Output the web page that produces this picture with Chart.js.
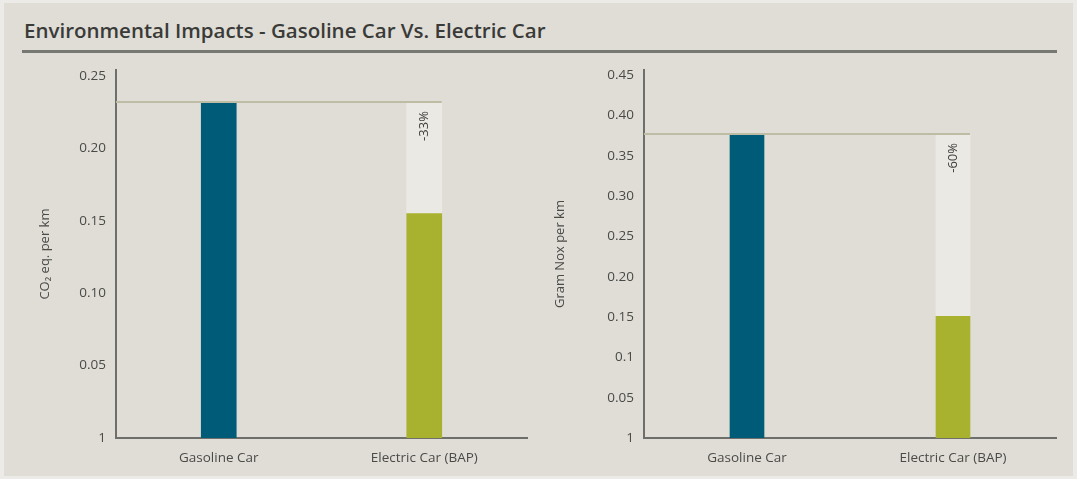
<!DOCTYPE html>
<html>
<head>
<meta charset="utf-8">
<script src="https://cdn.jsdelivr.net/npm/chart.js@4.4.1/dist/chart.umd.min.js"></script>
<style>
  html, body { margin: 0; padding: 0; width: 1077px; height: 479px; overflow: hidden; background: #ecebe7; }
  #panel { position: absolute; left: 4px; top: 3px; width: 1069px; height: 473px; background: #dfddd6; }
  #title { position: absolute; left: 24px; top: 16px; font: 600 20.5px "Open Sans", sans-serif; color: #3a3a38; white-space: nowrap; }
  #rule { position: absolute; left: 22px; top: 50px; width: 1035px; height: 3px; background: #777871; }
  canvas { position: absolute; top: 52px; }
  #co2 { left: 0px; }
  #nox { left: 530px; }
</style>
</head>
<body>
<div id="panel"></div>
<div id="title">Environmental Impacts - Gasoline Car Vs. Electric Car</div>
<div id="rule"></div>
<canvas id="co2" width="530" height="427"></canvas>
<canvas id="nox" width="547" height="427"></canvas>
<script>
// Categories shared by both panels
const categories = ['Gasoline Car', 'Electric Car (BAP)'];

// CO2 equivalent emissions, kg per km
const co2Values = [0.232, 0.155];
const co2TickValues = [0, 0.05, 0.10, 0.15, 0.20, 0.25];
const co2TickLabels = ['1', '0.05', '0.10', '0.15', '0.20', '0.25'];

// NOx emissions, gram per km
const noxValues = [0.377, 0.151];
const noxTickValues = [0, 0.05, 0.10, 0.15, 0.20, 0.25, 0.30, 0.35, 0.40, 0.45];
const noxTickLabels = ['1', '0.05', '0.1', '0.15', '0.20', '0.25', '0.30', '0.35', '0.40', '0.45'];

const barColors = ['#005b79', '#a8b22f'];
const gapColor = '#ebe9e4';
const textColor = '#4a4a47';
const axisColor = '#6e6f6a';
const fontFamily = '"Open Sans", sans-serif';

// Reference line at the gasoline level plus the rotated percentage change label
const referencePlugin = {
  id: 'reference',
  afterDatasetsDraw(chart) {
    const { ctx, chartArea } = chart;
    const yScale = chart.scales.y;
    const values = chart.data.datasets[0].data;
    const ref = values[0];
    const cur = values[values.length - 1];
    const py = yScale.getPixelForValue(ref);
    const bars = chart.getDatasetMeta(1).data;
    const last = bars[bars.length - 1];
    const right = last.x + last.width / 2;

    ctx.save();
    ctx.strokeStyle = '#bdbda6';
    ctx.lineWidth = 2;
    ctx.beginPath();
    ctx.moveTo(chartArea.left, py);
    ctx.lineTo(right, py);
    ctx.stroke();

    const pct = Math.round((cur - ref) / ref * 100);
    ctx.translate(last.x, py + 9);
    ctx.rotate(-Math.PI / 2);
    ctx.fillStyle = '#3c3c3a';
    ctx.font = '13px ' + fontFamily;
    ctx.textAlign = 'right';
    ctx.textBaseline = 'middle';
    ctx.fillText(pct + '%', 0, 0);
    ctx.restore();
  }
};

function buildChart(id, values, tickValues, tickLabels, yMax, yTitle, opts) {
  const gap = values.map((v, i) => (i === 0 ? null : values[0] - v));
  return new Chart(document.getElementById(id), {
    type: 'bar',
    data: {
      labels: categories,
      datasets: [
        { data: values, backgroundColor: barColors, barThickness: opts.barWidth, borderWidth: 0 },
        { data: gap, backgroundColor: gapColor, barThickness: opts.barWidth, borderWidth: 0 }
      ]
    },
    options: {
      responsive: false,
      devicePixelRatio: 1,
      animation: false,
      layout: { padding: { left: 0, right: opts.padRight, top: opts.padTop, bottom: 0 } },
      plugins: { legend: { display: false }, tooltip: { enabled: false } },
      scales: {
        x: {
          stacked: true,
          grid: { display: false, drawTicks: false },
          border: { display: true, color: axisColor, width: 2 },
          ticks: { color: textColor, font: { family: fontFamily, size: 13.5 }, padding: 12 },
          afterFit(s) { s.height = 41; }
        },
        y: {
          stacked: true,
          min: 0,
          max: yMax,
          grid: { display: false, drawTicks: false },
          border: { display: true, color: axisColor, width: 2 },
          afterBuildTicks(s) { s.ticks = tickValues.map(v => ({ value: v })); },
          ticks: {
            color: textColor,
            font: { family: fontFamily, size: 13.5 },
            padding: 10,
            callback: (v, i) => tickLabels[i]
          },
          title: {
            display: true,
            text: yTitle,
            color: textColor,
            font: { family: fontFamily, size: 13 },
            padding: { top: opts.titleOffset, bottom: 0 }
          },
          afterFit(s) { s.width = opts.axisWidth; }
        }
      }
    },
    plugins: [referencePlugin]
  });
}

buildChart('co2', co2Values, co2TickValues, co2TickLabels, 0.2541, 'CO\u2082 eq. per km',
  { barWidth: 35, padRight: 3, padTop: 13, axisWidth: 116, titleOffset: 37 });
buildChart('nox', noxValues, noxTickValues, noxTickLabels, 0.4562, 'Gram Nox per km',
  { barWidth: 34, padRight: 21, padTop: 14, axisWidth: 114, titleOffset: 22 });
</script>
</body>
</html>
